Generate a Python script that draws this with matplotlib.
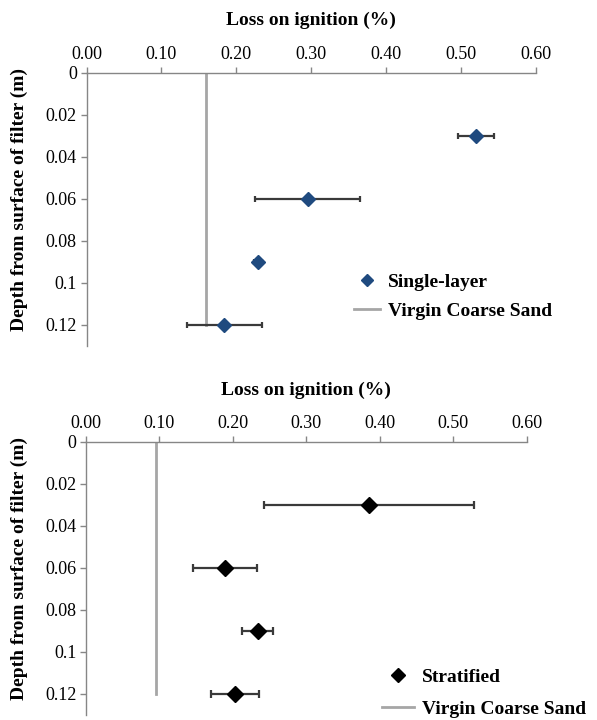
import matplotlib
matplotlib.use("Agg")
import matplotlib.pyplot as plt
from matplotlib.lines import Line2D

plt.rcParams['font.family'] = ['Liberation Serif', 'DejaVu Serif']

# ---- data ----
depths = [0.03, 0.06, 0.09, 0.12]
single_loi = [0.520, 0.295, 0.229, 0.184]
single_err = [0.024, 0.070, 0.005, 0.050]
virgin_single = 0.160

strat_loi = [0.385, 0.189, 0.234, 0.203]
strat_err = [0.143, 0.044, 0.021, 0.033]
virgin_strat = 0.095

virgin_depth = [0.0, 0.12]
xticks = [0.0, 0.1, 0.2, 0.3, 0.4, 0.5, 0.6]
xticklabels = ["0.00", "0.10", "0.20", "0.30", "0.40", "0.50", "0.60"]
yticks = [0.0, 0.02, 0.04, 0.06, 0.08, 0.10, 0.12]
yticklabels = ["0", "0.02", "0.04", "0.06", "0.08", "0.1", "0.12"]

W, H = 597, 720
fig = plt.figure(figsize=(W / 100, H / 100), dpi=100)

spine_c = '#868686'
err_c = '#3a3a3a'
virgin_c = '#a6a6a6'


def make_ax(left_px, right_px, top_px, bottom_px):
    ax = fig.add_axes([left_px / W, 1 - bottom_px / H,
                       (right_px - left_px) / W, (bottom_px - top_px) / H])
    ax.set_xlim(0, 0.6)
    ax.set_ylim(0.13, 0)
    ax.xaxis.tick_top()
    ax.xaxis.set_label_position('top')
    ax.set_xticks(xticks)
    ax.set_xticklabels(xticklabels)
    ax.set_yticks(yticks)
    ax.set_yticklabels(yticklabels)
    for s in ['right', 'bottom']:
        ax.spines[s].set_visible(False)
    for s in ['left', 'top']:
        ax.spines[s].set_color(spine_c)
        ax.spines[s].set_linewidth(1.0)
    ax.tick_params(axis='both', colors=spine_c, labelcolor='black',
                   labelsize=13, length=4, width=1.0, direction='out')
    ax.tick_params(axis='x', pad=3)
    ax.tick_params(axis='y', pad=3)
    ax.set_xlabel('Loss on ignition (%)', fontsize=14, fontweight='bold',
                  labelpad=15)
    ax.set_ylabel('Depth from surface of filter (m)', fontsize=14,
                  fontweight='bold')
    ax.yaxis.set_label_coords(-(86 - 28) / (right_px - left_px), 0.535)
    ax.patch.set_alpha(0)
    return ax


# ---- top chart ----
ax1 = make_ax(86.5, 536, 72.5, 345.5)
ax1.plot([virgin_single, virgin_single], virgin_depth, color=virgin_c,
         lw=2.0, zorder=2)
ax1.errorbar(single_loi, depths, xerr=single_err, fmt='none', ecolor=err_c,
             elinewidth=1.6, capsize=2.5, capthick=1.6, zorder=3)
ax1.plot(single_loi, depths, linestyle='none', marker='D', markersize=7.5,
         color='#1f4a7f', zorder=4)
h1 = [Line2D([], [], linestyle='none', marker='D', markersize=6.5,
             color='#1f4a7f'),
      Line2D([], [], color=virgin_c, lw=2.0)]
ax1.legend(h1, ['Single-layer', 'Virgin Coarse Sand'], loc='upper left',
           bbox_to_anchor=(354 / W, 1 - 273 / H), bbox_transform=fig.transFigure,
           frameon=False, prop={'size': 14, 'weight': 'bold'},
           handlelength=1.35, handletextpad=0.4, labelspacing=0.6,
           borderpad=0, borderaxespad=0)

# ---- bottom chart ----
ax2 = make_ax(86, 526.7, 442, 715)
ax2.plot([virgin_strat, virgin_strat], virgin_depth, color=virgin_c,
         lw=2.0, zorder=2)
ax2.errorbar(strat_loi, depths, xerr=strat_err, fmt='none', ecolor=err_c,
             elinewidth=1.6, capsize=2.8, capthick=1.6, zorder=3)
ax2.plot(strat_loi, depths, linestyle='none', marker='D', markersize=8.5,
         color='black', zorder=4)
h2 = [Line2D([], [], linestyle='none', marker='D', markersize=7,
             color='black'),
      Line2D([], [], color=virgin_c, lw=2.0)]
ax2.legend(h2, ['Stratified', 'Virgin Coarse Sand'], loc='upper left',
           bbox_to_anchor=(382 / W, 1 - 668 / H), bbox_transform=fig.transFigure,
           frameon=False, prop={'size': 14, 'weight': 'bold'},
           handlelength=1.65, handletextpad=0.4, labelspacing=0.75,
           borderpad=0, borderaxespad=0)

fig.savefig('out.png', dpi=100)
